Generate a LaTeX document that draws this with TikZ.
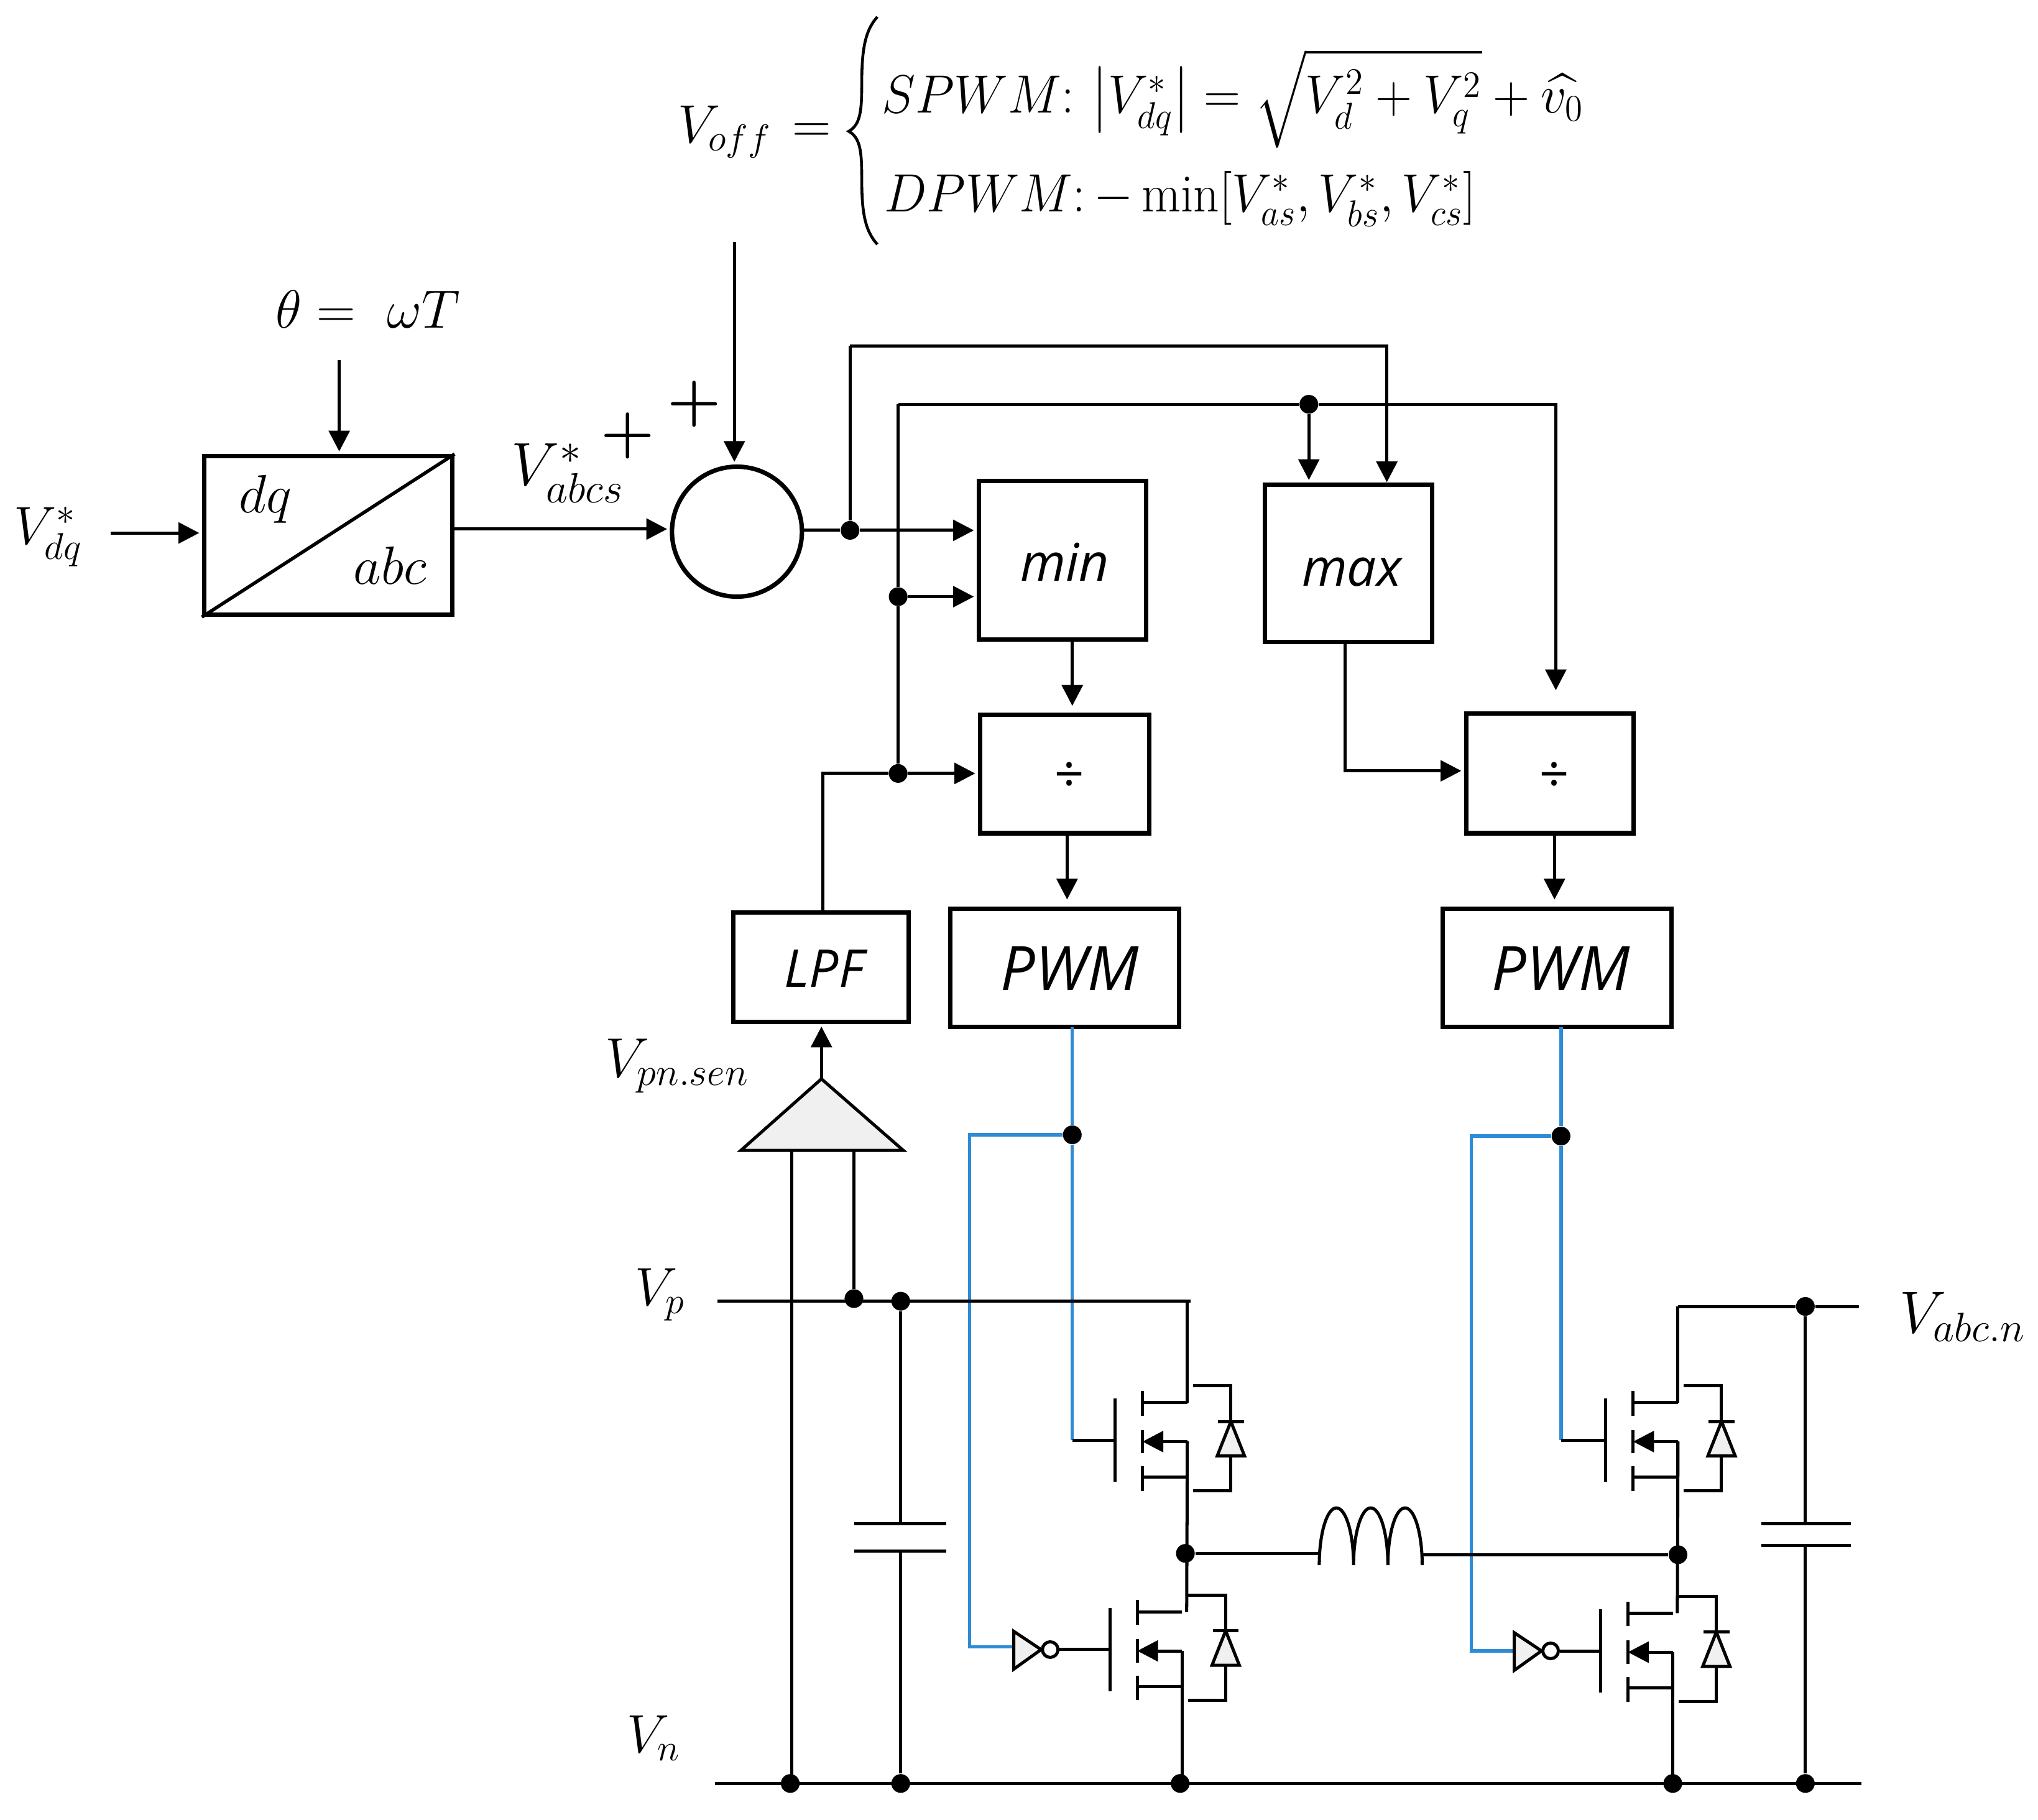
\documentclass[tikz,border=0pt]{standalone}
\usepackage{amsmath}
\usepackage{graphicx}
\usepackage{fontspec}
\newfontfamily\blockfont{Open Sans}
\usetikzlibrary{calc, arrows.meta, positioning}
\definecolor{gateblue}{RGB}{46,140,214}
\tikzset{
  wire/.style = {line width=1.2pt},
  sig/.style = {wire, ->, shorten >=1pt},
  blueline/.style = {line width=1.3pt, gateblue},
  block/.style = {draw, line width=1.7pt, inner sep=0pt},
  blocktext/.style = {font=\blockfont\itshape\fontsize{20}{24}\selectfont},
  pwmtext/.style = {font=\blockfont\itshape\fontsize{23.5}{28}\selectfont},
  dot/.style = {circle, fill=black, inner sep=0pt, minimum size=7.2pt},
  lab/.style = {inner sep=0pt, font=\fontsize{20.74}{25}\selectfont},
  pluslab/.style = {inner sep=0pt, font=\fontsize{24.88}{30}\selectfont},
  pics/mosfet/.style = {code={
    \draw[wire] (0,-32) -- (0,32);
    \draw[wire] (21,-38) -- (21,-19);
    \draw[wire] (21,-8) -- (21,10);
    \draw[wire] (21,20) -- (21,39);
    \draw[wire] (21,-29) -- (55.5,-29);
    \draw[wire] (21,28.5) -- (55.5,28.5);
    \draw[wire, ->] (55.5,1) -- (21,1);
    \draw[wire] (55.5,1) -- (55.5,28.5);
    \coordinate (-d) at (55.5,-29);
    \coordinate (-s) at (55.5,1);
    \coordinate (-top) at (59,-29);
    % diode
    \draw[wire] (60,-42) -- (89,-42) -- (89,-14.5);
    \draw[wire] (79,-14.5) -- (99,-14.5);
    \draw[wire, fill=black!6] (89,-14.5) -- (99.5,12) -- (78.5,12) -- cycle;
    \draw[wire] (89,12) -- (89,39) -- (60,39);
  }}
}
\begin{document}
\begin{tikzpicture}[x=0.5pt, y=-0.5pt, >={Triangle[length=8pt,width=8pt]}]
\useasboundingbox (0,0) rectangle (1568,1400);

% control blocks
\node[block, minimum width=95.5pt, minimum height=61pt] (dqabc) at (252.5,412) {};
\node[block, circle, minimum size=50pt] (sumnode) at (567,409) {};
\node[block, minimum width=64.5pt, minimum height=61pt] (minbox) at (817.5,431) {};
\node[block, minimum width=64.5pt, minimum height=60.5pt] (maxbox) at (1037.5,433.5) {};
\node[block, minimum width=65pt, minimum height=45.5pt] (divA) at (819,595.5) {};
\node[block, minimum width=64.5pt, minimum height=46pt] (divB) at (1192.5,595) {};
\node[block, minimum width=67.5pt, minimum height=42pt] (lpfbox) at (631.5,744) {};
\node[block, minimum width=88pt, minimum height=45.5pt] (pwmA) at (819,744.5) {};
\node[block, minimum width=88pt, minimum height=45.5pt] (pwmB) at (1198,744.5) {};
\draw[line width=1.3pt] (dqabc.south west) -- (dqabc.north east);

% block texts
\node[lab] (dqtext) at (204,384) {$dq$};
\node[lab] (abctext) at (300,435) {$abc$};
\node[blocktext, anchor=base, inner sep=0pt] (mintext) at (819,447) {min};
\node[blocktext, anchor=base, inner sep=0pt] (maxtext) at (1040,451) {max};
\node[blocktext] (divtextA) at (822,598) {÷};
\node[blocktext] (divtextB) at (1195,598) {÷};
\node[blocktext] (lpftext) at (634,745) {LPF};
\node[pwmtext] (pwmtextA) at (823,745) {PWM};
\node[pwmtext] (pwmtextB) at (1201,745) {PWM};

% labels
\node[lab] (vdq) at (37,413) {$V_{dq}^{*}$};
\node[lab] (theta) at (283,238) {$\theta =\ \omega T$};
\node[lab] (vabcs) at (437,364) {\scalebox{1.13}{$V_{abcs}^{*}$}};
\node[pluslab] (plusA) at (483,335) {\scalebox{0.95}{\boldmath$+$}};
\node[pluslab] (plusB) at (534,311) {\scalebox{0.95}{\boldmath$+$}};
\node[lab, anchor=base west] (voff) at (521,110) {$V_{off}\hspace{8pt}{=}$};
\node[lab, anchor=base west] (rowA) at (678,87) {\resizebox{270pt}{\height}{$SPWM{:}\,\left|V_{dq}^{*}\right| = \sqrt{V_{d}^{2}+V_{q}^{2}}+\widehat{v_{0}}$}};
\node[lab, anchor=base west] (rowB) at (680,163) {\resizebox{227.5pt}{\height}{$DPWM{:}\,{-}\min[V_{as}^{*},V_{bs}^{*},V_{cs}^{*}]$}};
\draw[line width=1.1pt] (675,13) .. controls (665,24) and (663,40) .. (663,65)
  .. controls (663,85) and (662,96) .. (653,101)
  .. controls (662,106) and (663,117) .. (663,137)
  .. controls (663,162) and (665,177) .. (675,188);
\node[lab] (vpnsen) at (521,820) {\scalebox{1.04}{$V_{pn.sen}$}};
\node[lab] (vp) at (508,996) {$V_{p}$};
\node[lab] (vn) at (503,1337) {$V_{n}$};
\node[lab] (vabcn) at (1510,1013) {\scalebox{1.1}{$V_{abc.n}$}};

% junctions
\node[dot] (dotA) at (654,408) {};
\node[dot] (dotB) at (1007,311) {};
\node[dot] (dotC) at (691,459) {};
\node[dot] (dotD) at (691,595) {};
\node[dot] (dotE) at (825,873) {};
\node[dot] (dotF) at (1201,874) {};
\node[dot] (dotG) at (657,999) {};
\node[dot] (dotH) at (693,1001) {};
\node[dot] (dotI) at (1389,1005) {};
\node[dot] (dotJ) at (912,1195) {};
\node[dot] (dotK) at (1291,1196) {};
\node[dot] (dotL) at (608,1372) {};
\node[dot] (dotM) at (693,1372) {};
\node[dot] (dotN) at (908,1372) {};
\node[dot] (dotO) at (1287,1372) {};
\node[dot] (dotP) at (1389,1372) {};

% free ends and corners
\coordinate (thetaEnd) at (261,277);
\coordinate (voffEnd) at (565,186);
\coordinate (vdqEnd) at (85,410);
\coordinate (upperCorner) at (654,266);
\coordinate (lowerCorner) at (691,311);
\coordinate (lpfOut) at (633,702);
\coordinate (railLeft) at (552,1001);
\coordinate (railRight) at (916,1001);
\coordinate (railTop) at (1291,1005);
\coordinate (railTopEnd) at (1430,1005);
\coordinate (railBotLeft) at (550,1372);
\coordinate (railBotEnd) at (1432,1372);
\coordinate (coilA) at (1015,1195);
\coordinate (coilB) at (1094,1196);

% control wiring
\draw[sig] (thetaEnd) -- (thetaEnd |- dqabc.north);
\draw[sig] (voffEnd) -- (voffEnd |- sumnode.north);
\draw[sig] (vdqEnd) -- (vdqEnd -| dqabc.west);
\draw[sig] (dqabc.east |- 0,407) -- (sumnode.west |- 0,407);
\draw[wire] (sumnode.east |- dotA) -- (dotA);
\draw[sig] (dotA) -- (dotA -| minbox.west);
\draw[wire] (dotA) -- (upperCorner);
\draw[sig] (upperCorner) -| (1067,373);
\draw[wire] (lowerCorner) -- (dotB);
\draw[sig] (dotB) -- (dotB |- maxbox.north);
\draw[sig] (dotB) -| (1197,533);
\draw[wire] (lowerCorner) -- (dotC);
\draw[wire] (dotC) -- (dotD);
\draw[sig] (dotC) -- (dotC -| minbox.west);
\draw[wire] (lpfOut) |- (dotD);
\draw[sig] (dotD) -- (divA.west |- dotD);
\draw[sig] (825,492) -- (825,545);
\draw[sig] (821,641) -- (821,694);
\draw[sig] (1035,494) |- (divB.west |- 0,593);
\draw[sig] (1196,641) -- (1196,694);

% sensing amplifier
\draw[wire, fill=black!6] (632,830) -- (695,885) -- (570,885) -- cycle;
\coordinate (ampTip) at (632,830);
\draw[sig] (ampTip) -- (lpfbox.south -| ampTip);
\draw[wire] (609,885) -- (609,1372);
\draw[wire] (657,885) -- (dotG);

% gate drive
\draw[blueline] (825,790) -- (dotE);
\draw[blueline] (dotE) -- (825,1108);
\draw[blueline] (dotE) -- (746,873) -- (746,1267) -- (779,1267);
\draw[blueline] (1201,790) -- (dotF);
\draw[blueline] (dotF) -- (1201,1108);
\draw[blueline] (dotF) -- (1132,874) -- (1132,1270) -- (1164,1270);

% power stage
\pic (mA) at (858,1108) {mosfet};
\pic (mB) at (854,1269) {mosfet};
\pic (mC) at (1235.5,1108) {mosfet};
\pic (mD) at (1231.5,1270) {mosfet};
\draw[wire] (825,1108) -- (858,1108);
\draw[wire] (1201,1108) -- (1235.5,1108);

\draw[wire] (railLeft) -- (railRight);
\draw[wire] (mA-d |- railRight) -- (mA-d);
\draw[wire] (mA-s) -- (mB-top);
\draw[wire] (mB-top) ++(0,-13) -- ++(30,0);
\draw[wire] (mB-s) -- (mB-s |- dotN);
\draw[wire] (railTop) -- (dotI);
\draw[wire] (dotI) -- (railTopEnd);
\draw[wire] (railTop) -- (mC-d);
\draw[wire] (mC-s) -- (mD-top);
\draw[wire] (mD-top) ++(0,-13) -- ++(30,0);
\draw[wire] (mD-s) -- (mD-s |- dotO);
\draw[wire] (railBotLeft) -- (railBotEnd);

% capacitors
\coordinate (capAt) at (693,1172);
\coordinate (capAb) at (693,1193);
\draw[wire] (dotH) -- (capAt);
\draw[wire] (capAb) -- (dotM);
\draw[wire] (657,1172) -- (728,1172);
\draw[wire] (657,1193) -- (728,1193);
\coordinate (capBt) at (1389,1172);
\coordinate (capBb) at (1389,1189);
\draw[wire] (dotI) -- (capBt);
\draw[wire] (capBb) -- (dotP);
\draw[wire] (1355,1172) -- (1424,1172);
\draw[wire] (1355,1189) -- (1424,1189);

% inductor
\coordinate (coilStart) at (1015,1204);
\draw[wire] (dotJ) -- (coilA);
\draw[wire] (coilB) -- (dotK);
\draw[wire] (coilStart) arc[start angle=180, end angle=0, x radius=6.6pt, y radius=22pt]
  arc[start angle=180, end angle=0, x radius=6.6pt, y radius=22pt]
  arc[start angle=180, end angle=0, x radius=6.6pt, y radius=22pt];

% inverters
\draw[wire, fill=black!6] (780,1255) -- (801,1269) -- (780,1284) -- cycle;
\node[draw, wire, circle, inner sep=0pt, minimum size=6pt] (bubA) at (808,1269) {};
\draw[wire] (bubA) -- (854,1269);
\draw[wire, fill=black!6] (1165,1256) -- (1186,1270) -- (1165,1285) -- cycle;
\node[draw, wire, circle, inner sep=0pt, minimum size=6pt] (bubB) at (1193,1270) {};
\draw[wire] (bubB) -- (1231.5,1270);
\end{tikzpicture}
\end{document}
